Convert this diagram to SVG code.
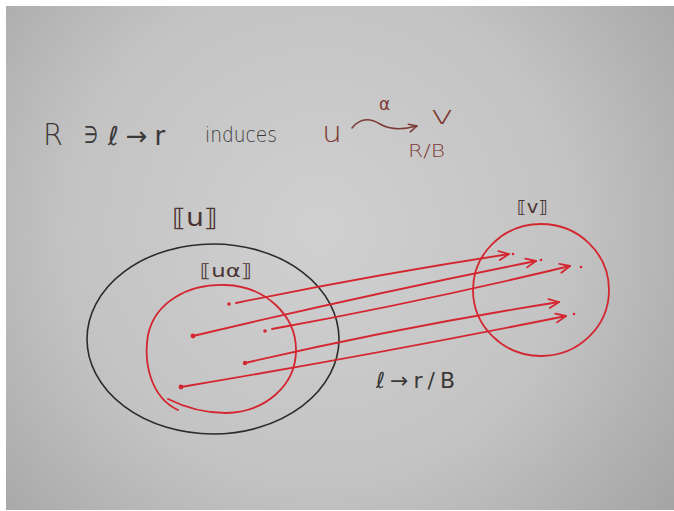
<svg xmlns="http://www.w3.org/2000/svg" width="674" height="511" viewBox="0 0 674 511">
  <defs>
    <radialGradient id="paper" cx="320" cy="230" r="460" gradientUnits="userSpaceOnUse">
      <stop offset="0" stop-color="#d0d0d0"/>
      <stop offset="0.55" stop-color="#c3c3c3"/>
      <stop offset="1" stop-color="#a3a3a3"/>
    </radialGradient>
    <marker id="head" viewBox="-12 -7 14 14" markerWidth="14" markerHeight="14" refX="0" refY="0" orient="auto" markerUnits="userSpaceOnUse">
      <path d="M-10,-4.5 L0,0 L-10,4.5" fill="none" stroke="#d42630" stroke-width="1.8" stroke-linecap="round" stroke-linejoin="round"/>
    </marker>
    <marker id="headBrown" viewBox="-12 -7 14 14" markerWidth="14" markerHeight="14" refX="0" refY="0" orient="auto" markerUnits="userSpaceOnUse">
      <path d="M-8,-4 L0,0 L-8,4" fill="none" stroke="#7d3a34" stroke-width="1.5" stroke-linecap="round" stroke-linejoin="round"/>
    </marker>
  </defs>
  <style>
    .hand { font-family: "DejaVu Sans", "Liberation Sans", sans-serif; }
    .thin { font-weight: 300; }
    .ink { fill: #3b3838; }
    .brown { fill: #7d3a34; }
    .dk { fill: #4a3434; }
    .red { fill: none; stroke: #d42630; stroke-width: 1.8; stroke-linecap: round; }
    .blk { fill: none; stroke: #2e2a2a; stroke-width: 1.6; }
    .dot { fill: #d42630; }
  </style>

  <rect x="0" y="0" width="674" height="511" fill="#ffffff"/>
  <rect x="6" y="6" width="668" height="504" fill="url(#paper)"/>

  <g id="formula">
    <text class="hand thin ink" x="43" y="145" font-size="30" textLength="20" lengthAdjust="spacingAndGlyphs">R</text>
    <text class="hand ink" x="84" y="143" font-size="24" textLength="14" lengthAdjust="spacingAndGlyphs">∋</text>
    <text class="hand ink" x="108" y="145" font-size="26" letter-spacing="7">ℓ→r</text>
    <text class="hand thin ink" x="205" y="142" font-size="21" textLength="72" lengthAdjust="spacingAndGlyphs">induces</text>
    <text class="hand thin brown" x="322" y="142" font-size="28" textLength="20" lengthAdjust="spacingAndGlyphs">u</text>
    <path d="M352,128 C360,118 370,118 380,124 C390,130 402,130 417,126" fill="none" stroke="#7d3a34" stroke-width="1.5" stroke-linecap="round" marker-end="url(#headBrown)"/>
    <text class="hand brown" x="379" y="110" font-size="17">α</text>
    <text class="hand thin brown" x="430" y="124" font-size="24" textLength="24" lengthAdjust="spacingAndGlyphs">v</text>
    <text class="hand thin brown" x="408" y="157" font-size="17" textLength="37" lengthAdjust="spacingAndGlyphs">R/B</text>
  </g>

  <g id="set-u">
    <ellipse class="blk" cx="213" cy="339" rx="126" ry="95"/>
    <text class="hand dk" x="172" y="226" font-size="24" textLength="46" lengthAdjust="spacingAndGlyphs">⟦u⟧</text>
  </g>

  <g id="set-ua">
    <path class="red" d="M178,410 C152,398 143,365 148,335 C155,302 188,284 225,285 C265,286 296,315 296,350 C296,385 266,412 226,413 C205,413 186,408 168,399"/>
    <text class="hand dk" x="200" y="277" font-size="18" textLength="52" lengthAdjust="spacingAndGlyphs">⟦uα⟧</text>
  </g>

  <g id="set-v">
    <ellipse class="red" cx="541" cy="290" rx="68" ry="66"/>
    <text class="hand dk" x="517" y="213" font-size="17" textLength="31" lengthAdjust="spacingAndGlyphs">⟦v⟧</text>
  </g>

  <g id="connectors">
    <circle class="dot" cx="229" cy="304" r="1.8"/>
    <path class="red" d="M236,303 Q372,275 509,254" marker-end="url(#head)"/>
    <circle class="dot" cx="513" cy="254" r="1.3"/>

    <circle class="dot" cx="193" cy="336" r="2.4"/>
    <path class="red" d="M193,336 Q365,295 536,261" marker-end="url(#head)"/>
    <circle class="dot" cx="541" cy="260" r="1.3"/>

    <circle class="dot" cx="265" cy="331" r="1.8"/>
    <path class="red" d="M272,329 Q420,302 570,266" marker-end="url(#head)"/>
    <circle class="dot" cx="581" cy="267" r="1.3"/>

    <circle class="dot" cx="245" cy="363" r="2.2"/>
    <path class="red" d="M245,363 Q400,327 559,302" marker-end="url(#head)"/>

    <circle class="dot" cx="181" cy="387" r="2.4"/>
    <path class="red" d="M181,387 Q372,355 566,316" marker-end="url(#head)"/>
    <circle class="dot" cx="574" cy="314" r="1.3"/>

    <text class="hand ink" x="376" y="388" font-size="22" letter-spacing="5">ℓ→r/B</text>
  </g>
</svg>
